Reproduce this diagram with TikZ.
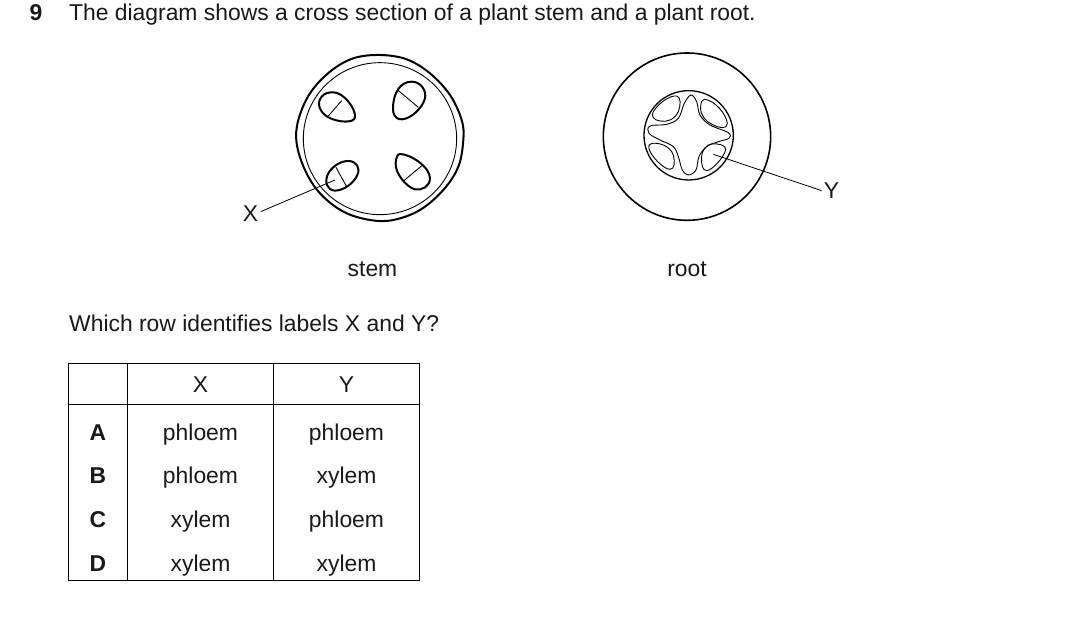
\documentclass[tikz,border=0pt]{standalone}
\usepackage{fontspec}
\setmainfont{Liberation Sans}
\tikzset{
  txt/.style={inner sep=0pt,font=\fontsize{22.87}{26}\selectfont,text=black!90},
  hdr/.style={txt,font=\fontsize{22.87}{26}\selectfont\bfseries},
  thick outline/.style={line width=2pt,line join=round},
  mid outline/.style={line width=1.3pt,line join=round},
  thin outline/.style={line width=0.9pt,line join=round},
  rule/.style={line width=0.9pt},
  leader/.style={line width=0.8pt},
}
\begin{document}
\begin{tikzpicture}[x=1pt,y=-1pt]
\useasboundingbox (0,0) rectangle (1090,628);
\fill[white] (0,0) rectangle (1090,628);

% question text
\node[hdr,anchor=base] (qnum) at (36,21) {9};
\node[txt,anchor=base west] (qtext) at (69,21) {The diagram shows a cross section of a plant stem and a plant root.};
\node[txt,anchor=base] (stemcap) at (372.5,277) {stem};
\node[txt,anchor=base] (rootcap) at (687,277) {root};
\node[txt,anchor=base west] (ask) at (69,332) {Which row identifies labels X and Y?};

% stem section
\begin{scope}[shift={(230,40)},x=0.3333pt,y=-0.3333pt]
  \draw[thick outline] plot[smooth cycle,tension=0.6] coordinates {
    (450,45)(530,58)(600,100)(660,165)(695,240)(700,300)(685,380)(640,450)
    (570,510)(490,540)(420,540)(340,515)(270,460)(225,390)(200,310)(205,240)
    (240,160)(300,95)(370,55)};
  \draw[thin outline] (450,296) ellipse[x radius=230,y radius=228];
  % vascular bundles
  \draw[thick outline] (310,157) .. controls (340,157) and (378,205) .. (375,232)
    .. controls (373,250) and (325,248) .. (295,232)
    .. controls (270,218) and (258,190) .. (275,170)
    .. controls (285,158) and (298,157) .. (310,157) -- cycle;
  \draw[thin outline] (295,228) -- (335,182);
  \draw[thick outline] (545,125) .. controls (575,125) and (590,155) .. (585,175)
    .. controls (578,205) and (540,238) .. (515,238)
    .. controls (490,238) and (487,215) .. (490,190)
    .. controls (493,160) and (510,125) .. (545,125) -- cycle;
  \draw[thin outline] (503,150) -- (565,202);
  \draw[thick outline] (355,363) .. controls (380,363) and (392,385) .. (382,405)
    .. controls (372,430) and (340,452) .. (315,452)
    .. controls (290,450) and (282,425) .. (295,400)
    .. controls (310,375) and (335,363) .. (355,363) -- cycle;
  \draw[thin outline] (318,382) -- (350,440);
  \draw[thick outline] (510,342) .. controls (540,342) and (600,380) .. (600,415)
    .. controls (600,440) and (575,452) .. (555,448)
    .. controls (530,442) and (495,400) .. (497,370)
    .. controls (498,352) and (503,342) .. (510,342) -- cycle;
  \draw[thin outline] (578,375) -- (522,422);
  \coordinate (xtip) at (315,420);
  \coordinate (xend) at (92,515);
\end{scope}
\node[txt,anchor=base] (xlab) at (250.5,222) {X};
\draw[leader] (xend) -- (xtip);

% root section
\begin{scope}[shift={(595,40)},x=0.3333pt,y=-0.3333pt]
  \draw[line width=1.6pt] (276,290) circle[radius=251];
  \draw[mid outline] (281,286) circle[radius=134];
  \draw[thin outline] plot[smooth cycle,tension=0.6] coordinates {
    (288,165)(305,185)(315,225)(345,255)(400,278)(402,295)(370,305)(335,320)
    (312,350)(303,390)(280,405)(262,390)(250,350)(235,320)(195,300)(162,280)
    (165,258)(215,253)(250,235)(268,190)};
  % phloem lobes between the arms of the xylem
  \draw[thin outline] (245,168) .. controls (258,170) and (258,195) .. (250,215)
    .. controls (240,238) and (215,248) .. (195,243)
    .. controls (175,240) and (168,228) .. (175,215)
    .. controls (190,190) and (225,165) .. (245,168) -- cycle;
  \draw[thin outline] (328,178) .. controls (360,180) and (395,225) .. (397,250)
    .. controls (397,268) and (375,265) .. (355,255)
    .. controls (330,243) and (315,225) .. (317,200)
    .. controls (318,185) and (322,178) .. (328,178) -- cycle;
  \draw[thin outline] (350,312) .. controls (370,310) and (395,315) .. (392,330)
    .. controls (385,355) and (350,392) .. (335,392)
    .. controls (322,392) and (318,370) .. (320,350)
    .. controls (322,328) and (335,314) .. (350,312) -- cycle;
  \draw[thin outline] (172,310) .. controls (195,308) and (225,318) .. (235,345)
    .. controls (240,365) and (240,388) .. (225,388)
    .. controls (205,388) and (165,345) .. (162,325)
    .. controls (160,315) and (165,310) .. (172,310) -- cycle;
  \coordinate (ytip) at (355,343);
  \coordinate (yend) at (680,452);
\end{scope}
\node[txt,anchor=base] (ylab) at (831.5,199) {Y};
\draw[leader] (ytip) -- (yend);

% answer table
\draw[rule] (68.5,363.5) rectangle (419.5,580.5);
\draw[rule] (68.5,404.5) -- (419.5,404.5);
\draw[rule] (127.5,363.5) -- (127.5,580.5);
\draw[rule] (273.5,363.5) -- (273.5,580.5);
\node[txt,anchor=base] (hx) at (200.5,392) {X};
\node[txt,anchor=base] (hy) at (346.5,392) {Y};
\node[hdr,anchor=base] (ra) at (98,440) {A};
\node[txt,anchor=base] (ax) at (200.5,440) {phloem};
\node[txt,anchor=base] (ay) at (346.5,440) {phloem};
\node[hdr,anchor=base] (rb) at (98,483) {B};
\node[txt,anchor=base] (bx) at (200.5,483) {phloem};
\node[txt,anchor=base] (by) at (346.5,483) {xylem};
\node[hdr,anchor=base] (rc) at (98,527) {C};
\node[txt,anchor=base] (cx) at (200.5,527) {xylem};
\node[txt,anchor=base] (cy) at (346.5,527) {phloem};
\node[hdr,anchor=base] (rd) at (98,571) {D};
\node[txt,anchor=base] (dx) at (200.5,571) {xylem};
\node[txt,anchor=base] (dy) at (346.5,571) {xylem};
\end{tikzpicture}
\end{document}
